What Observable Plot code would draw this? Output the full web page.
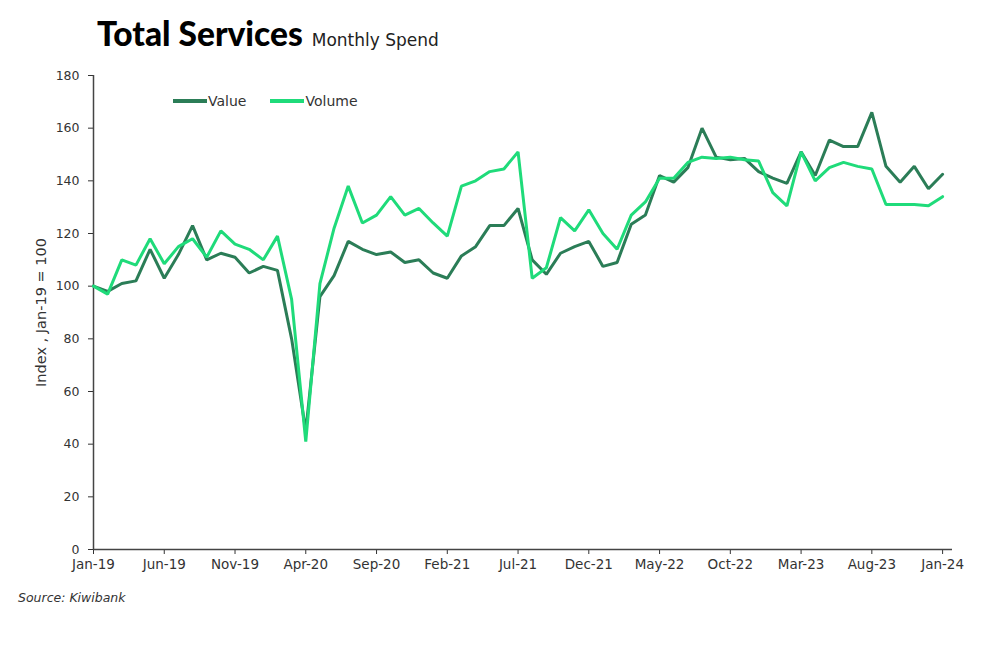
<!DOCTYPE html>
<html><head><meta charset="utf-8">
<script src="https://cdn.jsdelivr.net/npm/d3@7"></script>
<script src="https://cdn.jsdelivr.net/npm/@observablehq/plot@0.6"></script>
<style>
body{margin:0;background:#fff;}
#wrap{position:relative;width:1000px;height:664px;font-family:"DejaVu Sans",sans-serif;color:#222}
#title{position:absolute;left:97px;top:13px;white-space:nowrap}
#title .t{font-family:"Lato",sans-serif;font-weight:900;font-size:33.5px;color:#000}
#title .s{font-size:17px;color:#222;margin-left:9px}
#legend{position:absolute;left:173px;top:90px;font-size:14px;color:#333;white-space:nowrap}
#legend span.item{display:inline-flex;align-items:center;margin-right:24px}
#legend i{display:inline-block;width:34px;height:4px;margin-right:1px}
#source{position:absolute;left:18px;top:590px;font-size:12.5px;font-style:italic;color:#333}
#chart{position:absolute;left:0;top:0}
#chart g[aria-label="x-axis tick label"]{font-size:13.5px}
#chart g[aria-label="y-axis tick label"]{font-size:12.5px}
#chart g[aria-label="y-axis label"]{font-size:14.5px}
</style></head><body>
<div id="wrap">
<div id="chart"></div>
<div id="title"><span class="t">Total Services</span><span class="s">Monthly Spend</span></div>
<div id="legend"></div>
<div id="source">Source: Kiwibank</div>
</div>
<script>
// Months: Jan-19 .. Jan-24
const months = d3.utcMonth.range(new Date(Date.UTC(2019,0,1)), new Date(Date.UTC(2024,1,1)));
const tickIndex = [0,5,10,15,20,25,30,35,40,45,50,55,60];
const yTicks = [0,20,40,60,80,100,120,140,160,180];
const seriesNames = ["Value","Volume"];
const seriesColors = ["#2b7d57","#1fdb7a"];

const valueSeries = [100,98,101,102,114,103,112,123,110,112.5,111,105,107.5,106,80,45,96,104,117,114,112,113,109,110,105,103,111.5,115,123,123,129.5,110,104.5,112.5,115,117,107.5,109,123.5,127,142,139.5,145,160,149,148,148.5,143.5,141,139,151,142,155.5,153,153,166,145.5,139.5,145.5,137,142.5];
const volumeSeries = [100,97,110,108,118,108.5,115,118,111,121,116,114,110,119,95,41,101,122,138,124,127,134,127,129.5,124,119,138,140,143.5,144.5,151,103,107,126,121,129,120,114,127,132,141,141,147,149,148.5,149,148,147.5,135.5,130.5,151,140,145,147,145.5,144.5,131,131,131,130.5,134];

const fmt = d3.utcFormat("%b-%y");
const rows = [];
[valueSeries, volumeSeries].forEach((arr, k) => arr.forEach((v, i) => rows.push({i, v, s: seriesNames[k]})));

const chart = Plot.plot({
  width: 1000, height: 664,
  marginLeft: 93, marginRight: 48, marginTop: 75, marginBottom: 115,
  style: {fontFamily: "'DejaVu Sans', sans-serif", fontSize: "12px", color: "#333", background: "transparent"},
  x: {domain: [0, 60.7], ticks: tickIndex, tickFormat: i => fmt(months[i]), tickSize: 5, tickPadding: 5, label: null},
  y: {domain: [0, 180], ticks: yTicks, tickSize: 5, tickPadding: 9, label: "Index , Jan-19 = 100", labelAnchor: "center", labelArrow: "none", labelOffset: 58},
  color: {domain: seriesNames, range: seriesColors},
  marks: [
    Plot.ruleX([0], {stroke: "#444", strokeWidth: 1.5}),
    Plot.ruleY([0], {stroke: "#444", strokeWidth: 1.5}),
    Plot.line(rows, {x: "i", y: "v", z: "s", stroke: "s", strokeWidth: 3, strokeLinejoin: "miter"})
  ]
});
document.getElementById("chart").appendChild(chart);

const leg = document.getElementById("legend");
seriesNames.forEach((n, k) => {
  const s = document.createElement("span"); s.className = "item";
  s.innerHTML = `<i style="background:${seriesColors[k]}"></i>${n}`;
  leg.appendChild(s);
});
</script>
</body></html>
